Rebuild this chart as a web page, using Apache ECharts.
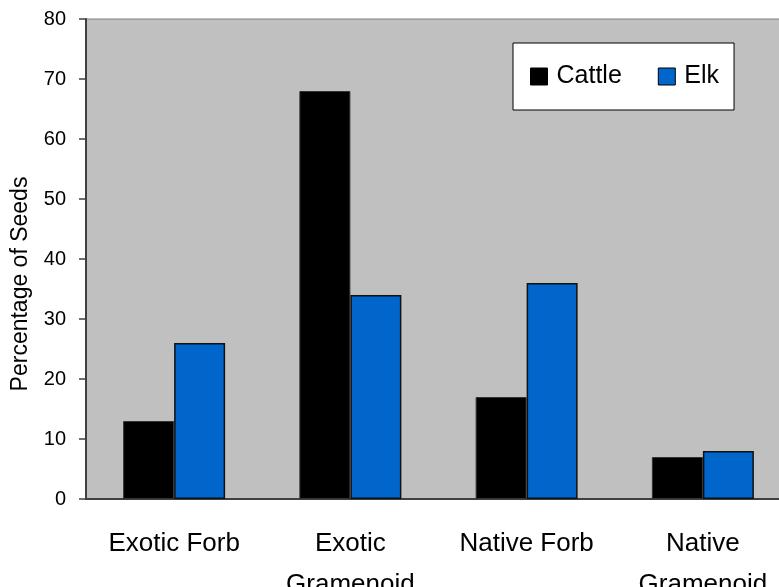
<!DOCTYPE html>
<html>
<head>
<meta charset="utf-8">
<script src="https://cdn.jsdelivr.net/npm/echarts@6/dist/echarts.min.js"></script>
<style>
  html, body { margin: 0; padding: 0; background: #ffffff; }
  #chart { width: 779px; height: 587px; }
</style>
</head>
<body>
<div id="chart"></div>
<script>
// Seed composition by plant group
const categories = ['Exotic Forb', 'Exotic\nGramenoid', 'Native Forb', 'Native\nGramenoid'];
const cattleValues = [13, 68, 17, 7];
const elkValues = [26, 34, 36, 8];
const seriesNames = ['Cattle', 'Elk'];
const yTicks = { min: 0, max: 80, step: 10 };

const FONT = '"Liberation Sans", Arial, sans-serif';

const chart = echarts.init(document.getElementById('chart'), null, { renderer: 'canvas' });

chart.setOption({
  animation: false,
  backgroundColor: '#ffffff',
  grid: {
    left: 86,
    top: 19,
    bottom: 88,
    width: 705,
    containLabel: false,
    outerBoundsMode: 'none',
    show: true,
    backgroundColor: '#c0c0c0',
    borderColor: '#808080',
    borderWidth: 1
  },
  legend: {
    left: 513,
    top: 43,
    padding: [21, 15, 21, 17],
    itemWidth: 17,
    itemHeight: 17,
    itemGap: 36,
    backgroundColor: '#ffffff',
    borderColor: '#000000',
    borderWidth: 1,
    icon: 'rect',
    data: seriesNames,
    itemStyle: { borderColor: '#000000', borderWidth: 1 },
    textStyle: { fontFamily: FONT, fontSize: 25, color: '#000000', padding: [0, 0, 0, 4] }
  },
  xAxis: {
    type: 'category',
    data: categories,
    axisLine: { show: true, lineStyle: { color: '#404040', width: 2 } },
    axisTick: { show: false },
    axisLabel: {
      interval: 0,
      color: '#000000',
      fontFamily: FONT,
      fontSize: 26,
      lineHeight: 41,
      margin: 24
    },
    splitLine: { show: false }
  },
  yAxis: {
    type: 'value',
    min: yTicks.min,
    max: yTicks.max,
    interval: yTicks.step,
    name: 'Percentage of Seeds',
    nameLocation: 'middle',
    nameRotate: 90,
    nameGap: 54,
    nameTextStyle: { fontFamily: FONT, fontSize: 23, color: '#000000', padding: [0, 50, 0, 0] },
    axisLine: { show: true, lineStyle: { color: '#404040', width: 2 } },
    axisTick: { show: true, inside: false, length: 7, lineStyle: { color: '#404040', width: 1.5 } },
    axisLabel: { color: '#000000', fontFamily: FONT, fontSize: 20, margin: 20 },
    splitLine: { show: false }
  },
  series: [
    {
      name: seriesNames[0],
      type: 'bar',
      data: cattleValues,
      barWidth: 51,
      barGap: '0%',
      itemStyle: { color: '#000000', borderColor: '#333333', borderWidth: 1 }
    },
    {
      name: seriesNames[1],
      type: 'bar',
      data: elkValues,
      barWidth: 51,
      barGap: '0%',
      itemStyle: { color: '#0066cc', borderColor: '#111111', borderWidth: 1.5 }
    }
  ]
});
</script>
</body>
</html>
